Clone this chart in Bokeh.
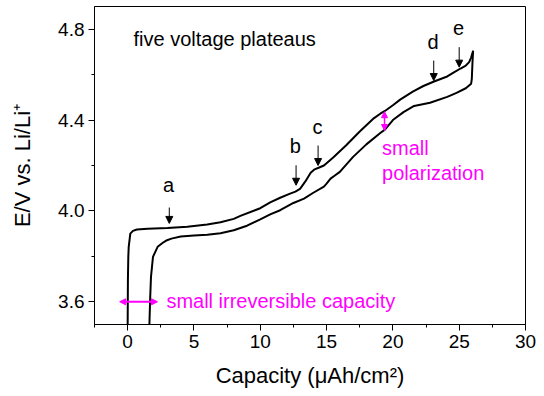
from bokeh.plotting import figure
from bokeh.models import Range1d, FixedTicker, Arrow, NormalHead, Label, NumeralTickFormatter
from bokeh.embed import file_html
from bokeh.resources import INLINE

# Charge curve (upper branch): capacity in uAh/cm2, potential in V vs Li/Li+
charge_cap = [0.0, 0.02, 0.05, 0.08, 0.2, 0.4, 0.7, 1.5, 3.0, 4.5, 6.0, 7.0, 8.0, 8.5,
              10.0, 10.75, 11.5, 12.2, 12.65, 13.0, 13.4, 13.8, 14.1, 14.4, 14.8,
              15.5, 16.5, 17.5, 18.5, 19.05, 19.4, 20.0, 20.55, 21.5, 22.3, 23.1,
              24.1, 24.6, 25.1, 25.5, 25.75, 25.9, 26.05]
charge_v = [3.50, 3.70, 3.80, 3.842, 3.90, 3.912, 3.918, 3.921, 3.925, 3.930, 3.940, 3.950,
            3.965, 3.978, 4.012, 4.038, 4.058, 4.075, 4.085, 4.097, 4.130, 4.168, 4.183,
            4.190, 4.200, 4.235, 4.290, 4.350, 4.405, 4.428, 4.440, 4.465, 4.490, 4.525,
            4.550, 4.570, 4.592, 4.610, 4.627, 4.640, 4.655, 4.675, 4.705]

# Discharge curve (lower branch), from the top of charge back down
discharge_cap = [26.05, 26.0, 25.95, 25.9, 25.5, 24.8, 24.1, 22.8, 21.6, 20.8, 20.0,
                 19.4, 19.05, 18.0, 17.0, 16.0, 15.6, 15.3, 15.0, 14.8, 14.0, 13.3,
                 12.5, 11.5, 10.75, 10.0, 9.0, 8.0, 7.0, 6.0, 5.0, 4.0, 3.3, 2.97,
                 2.7, 2.26, 1.91, 1.76, 1.70, 1.64]
discharge_v = [4.705, 4.650, 4.580, 4.560, 4.540, 4.520, 4.502, 4.476, 4.462, 4.435, 4.400,
               4.358, 4.343, 4.293, 4.238, 4.172, 4.155, 4.142, 4.120, 4.107, 4.080, 4.054,
               4.035, 4.003, 3.985, 3.963, 3.935, 3.915, 3.902, 3.895, 3.892, 3.887, 3.878,
               3.871, 3.862, 3.842, 3.798, 3.710, 3.620, 3.500]

x_ticks = [0, 5, 10, 15, 20, 25, 30]
x_minor = [-2.5, 2.5, 7.5, 12.5, 17.5, 22.5, 27.5]
y_ticks = [3.6, 4.0, 4.4, 4.8]
y_minor = [3.8, 4.2, 4.6]

# Plateau markers: letter, capacity and the potential the arrow points at
plateau_labels = ["a", "b", "c", "d", "e"]
plateau_cap = [3.14, 12.7, 14.36, 23.08, 25.0]
plateau_v = [3.945, 4.113, 4.200, 4.574, 4.633]

# Irreversible capacity span at 3.6 V and polarization gap at 19.37 uAh/cm2
irrev_span = [-0.6, 2.25]
irrev_level = 3.6
polar_cap = 19.37
polar_span = [4.354, 4.437]

FONT = "Liberation Sans"
MAGENTA = "#ff00ff"

p = figure(frame_width=431, frame_height=318, output_backend="svg", toolbar_location=None,
           x_range=Range1d(-2.5, 30), y_range=Range1d(3.5, 4.9),
           min_border_left=94, min_border_right=19, min_border_top=6, min_border_bottom=72)
p.background_fill_color = "white"
p.border_fill_color = "white"
p.outline_line_color = "black"
p.outline_line_width = 1
p.outline_line_alpha = 1
p.xgrid.visible = False
p.ygrid.visible = False

p.line(charge_cap, charge_v, line_color="black", line_width=2)
p.line(discharge_cap, discharge_v, line_color="black", line_width=2)

for ax in (p.xaxis[0], p.yaxis[0]):
    ax.axis_line_color = "black"
    ax.major_tick_line_color = "black"
    ax.minor_tick_line_color = "black"
    ax.major_tick_in = 0
    ax.major_tick_out = 6
    ax.minor_tick_in = 0
    ax.minor_tick_out = 3
    ax.major_label_text_font = FONT
    ax.major_label_text_font_size = "19px"
    ax.major_label_text_color = "black"
    ax.axis_label_text_font = FONT
    ax.axis_label_text_font_size = "22px"
    ax.axis_label_text_font_style = "normal"
    ax.axis_label_text_color = "black"

p.xaxis.ticker = FixedTicker(ticks=x_ticks, minor_ticks=x_minor)
p.yaxis.ticker = FixedTicker(ticks=y_ticks, minor_ticks=y_minor)
p.yaxis.formatter = NumeralTickFormatter(format="0.0")
p.xaxis.axis_label = "Capacity (\u03bcAh/cm\u00b2)"
p.yaxis.axis_label = "E/V vs. Li/Li\u207a"
p.xaxis.major_label_standoff = 4
p.yaxis.major_label_standoff = 4
p.xaxis.axis_label_standoff = 12
p.yaxis.axis_label_standoff = 20

LIFT = 0.031  # raises text so its glyphs sit on the intended baseline

# Plateau arrows and letters
for lab, cx, cv in zip(plateau_labels, plateau_cap, plateau_v):
    length = 0.07 if lab == "a" else 0.088
    p.add_layout(Arrow(end=NormalHead(size=7, fill_color="black", line_color="black"),
                       x_start=cx, y_start=cv + length, x_end=cx, y_end=cv,
                       line_color="black", line_width=1))
    p.add_layout(Label(x=cx - 0.05, y=cv + 0.14 + LIFT, text=lab, text_align="center",
                       text_baseline="alphabetic", text_font=FONT,
                       text_font_size="20px", text_color="black"))

p.add_layout(Label(x=0.44, y=4.728 + LIFT, text="five voltage plateaus", text_font=FONT,
                   text_font_size="20px", text_color="black", text_baseline="alphabetic"))

# Irreversible capacity marker
p.add_layout(Arrow(start=NormalHead(size=6, fill_color=MAGENTA, line_color=MAGENTA),
                   end=NormalHead(size=6, fill_color=MAGENTA, line_color=MAGENTA),
                   x_start=irrev_span[0], y_start=irrev_level,
                   x_end=irrev_span[1], y_end=irrev_level,
                   line_color=MAGENTA, line_width=2))
p.add_layout(Label(x=2.92, y=3.574 + LIFT, text="small irreversible capacity", text_font=FONT,
                   text_font_size="20px", text_color=MAGENTA, text_baseline="alphabetic"))

# Polarization marker
p.add_layout(Arrow(start=NormalHead(size=6, fill_color=MAGENTA, line_color=MAGENTA),
                   end=NormalHead(size=6, fill_color=MAGENTA, line_color=MAGENTA),
                   x_start=polar_cap, y_start=polar_span[0],
                   x_end=polar_cap, y_end=polar_span[1],
                   line_color=MAGENTA, line_width=1.5))
p.add_layout(Label(x=19.18, y=4.245 + LIFT, text="small", text_font=FONT,
                   text_font_size="20px", text_color=MAGENTA, text_baseline="alphabetic"))
p.add_layout(Label(x=19.18, y=4.138 + LIFT, text="polarization", text_font=FONT,
                   text_font_size="20px", text_color=MAGENTA, text_baseline="alphabetic"))

open("out.html", "w").write(file_html(p, INLINE))
